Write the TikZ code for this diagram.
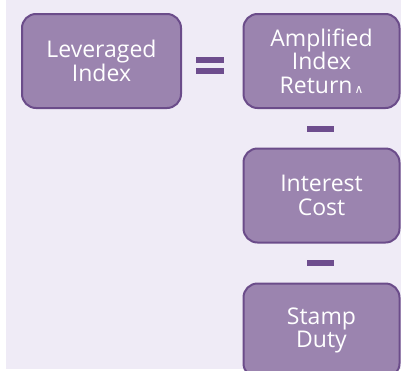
\documentclass[tikz,border=0pt]{standalone}
\usepackage{fontspec}
\setmainfont{Open Sans}
\newfontfamily\symfont{DejaVu Sans}
\definecolor{bgc}{HTML}{EFEBF6}
\definecolor{boxfill}{HTML}{9B84AF}
\definecolor{boxline}{HTML}{6B4C8A}
\definecolor{signc}{HTML}{6E4D8E}
\tikzset{
  termbox/.style={draw=boxline, line width=2pt, fill=boxfill, rounded corners=14pt,
    minimum width=156pt, minimum height=94pt, align=center, text=white,
    font=\fontsize{23}{23.5}\selectfont, inner sep=0pt},
  bar/.style={fill=signc, draw=none, minimum width=28pt, minimum height=6pt, inner sep=0pt, rectangle},
}
\begin{document}
\begin{tikzpicture}[x=1pt,y=-1pt]
\useasboundingbox (0,0) rectangle (401,370);
\clip (0,0) rectangle (401,370);
\fill[bgc] (6,0) rectangle (401,369);
\node[termbox, minimum width=159pt] (lev) at (101.5,61) {Leveraged\\Index};
\node[termbox] (amp) at (321.5,61) {Amplified\\Index\\Return{\symfont\fontsize{12}{12}\selectfont\,∧}};
\node[termbox] (int) at (321.5,195.5) {Interest\\Cost};
\node[termbox] (stamp) at (321.5,330.5) {Stamp\\Duty};
\node[bar] (eqa) at (210,60) {};
\node[bar] (eqb) at (210,71) {};
\node[bar, minimum width=27pt] (m1) at (320.5,129) {};
\node[bar, minimum width=27pt] (m2) at (320.5,263) {};
\end{tikzpicture}
\end{document}
